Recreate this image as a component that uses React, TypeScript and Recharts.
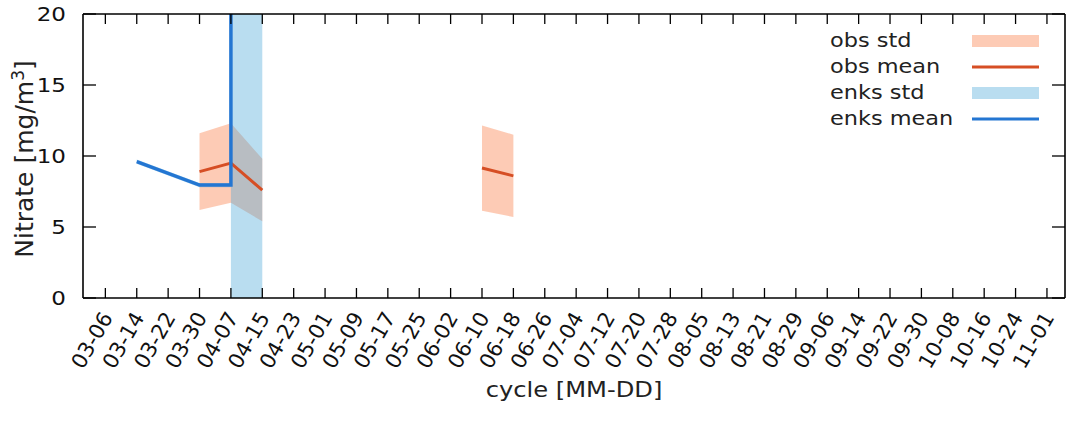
import {
  Area,
  ComposedChart,
  Legend,
  Line,
  XAxis,
  YAxis,
} from "recharts";

// cycle dates on the x axis (8-day steps)
const cycles = [
  "03-06", "03-14", "03-22", "03-30", "04-07", "04-15", "04-23", "05-01",
  "05-09", "05-17", "05-25", "06-02", "06-10", "06-18", "06-26", "07-04",
  "07-12", "07-20", "07-28", "08-05", "08-13", "08-21", "08-29", "09-06",
  "09-14", "09-22", "09-30", "10-08", "10-16", "10-24", "11-01",
];
const yTicks = [0, 5, 10, 15, 20];

// observations (null = gap)
const obsCycles = ["03-30", "04-07", "04-15", null, "06-10", "06-18"];
const obsMean = [8.9, 9.5, 7.6, null, 9.15, 8.6];
const obsStd = [2.7, 2.8, 2.2, null, 3.0, 2.9];

// EnKS analysis (two entries on 04-07: before / after the jump)
const enksCycles = ["03-14", "03-30", "04-07", "04-07", "04-15"];
const enksMean = [9.6, 7.95, 7.95, 40, 40];
const enksStd = [0.15, 0.15, 0.15, 60, 60];

const STEP = 8;
const dayOf = (c: string) => cycles.indexOf(c) * STEP;
const tickDays = cycles.map((_, i) => i * STEP);

const obsData = obsCycles.map((c, i) => ({
  day: c ? dayOf(c) : (dayOf("04-15") + dayOf("06-10")) / 2,
  mean: obsMean[i],
  std: obsMean[i] == null ? null : [obsMean[i]! - obsStd[i]!, obsMean[i]! + obsStd[i]!],
}));
const enksData = enksCycles.map((c, i) => ({
  day: dayOf(c),
  mean: enksMean[i],
  std: [enksMean[i] - enksStd[i], enksMean[i] + enksStd[i]],
}));

const FONT = "'DejaVu Sans', sans-serif";
const OBS_FILL = "rgb(250,140,90)";
const OBS_OPACITY = 0.45;
const OBS_LINE = "rgb(214,78,36)";
const ENKS_FILL = "rgb(70,165,215)";
const ENKS_OPACITY = 0.38;
const ENKS_LINE = "rgb(36,118,210)";
const SX = 1.15; // the reference is slightly stretched sideways

function BottomTick({ x, y, payload }: any) {
  const label = cycles[Math.round(payload.value / STEP)];
  return (
    <g>
      <line x1={x} x2={x} y1={y} y2={y - 10} stroke="#000" strokeWidth={1.3} />
      <g transform={`translate(${x + 2},${y + 16}) rotate(-60)`}>
        <text textAnchor="end" dominantBaseline="central" fontSize={21} fill="#111" fontFamily={FONT}>
          {label}
        </text>
      </g>
    </g>
  );
}

function TopTick({ x, y }: any) {
  return <line x1={x} x2={x} y1={y} y2={y + 10} stroke="#000" strokeWidth={1.3} />;
}

function LeftTick({ x, y, payload }: any) {
  return (
    <g>
      <line x1={x} x2={x + 13} y1={y} y2={y} stroke="#000" strokeWidth={1.3} />
      <g transform={`translate(${x - 17},${y}) scale(${SX},1)`}>
        <text textAnchor="end" dominantBaseline="central" fontSize={20} fill="#111" fontFamily={FONT}>
          {payload.value}
        </text>
      </g>
    </g>
  );
}

function RightTick({ x, y }: any) {
  return <line x1={x} x2={x - 13} y1={y} y2={y} stroke="#000" strokeWidth={1.3} />;
}

function YTitle() {
  return (
    <text
      transform="translate(33,159) rotate(-90)"
      textAnchor="middle"
      fontSize={25}
      fill="#222"
      fontFamily={FONT}
    >
      Nitrate [mg/m
      <tspan dy={-9} fontSize={17}>3</tspan>
      <tspan dy={9}>]</tspan>
    </text>
  );
}

function XTitle() {
  return (
    <g transform="translate(574,397) scale(1.1,1)">
      <text textAnchor="middle" fontSize={22} fill="#222" fontFamily={FONT}>
        cycle [MM-DD]
      </text>
    </g>
  );
}

const legendItems = [
  { label: "obs std", color: OBS_FILL, kind: "patch", opacity: OBS_OPACITY },
  { label: "obs mean", color: OBS_LINE, kind: "line", opacity: 1 },
  { label: "enks std", color: ENKS_FILL, kind: "patch", opacity: ENKS_OPACITY },
  { label: "enks mean", color: ENKS_LINE, kind: "line", opacity: 1 },
];

function LegendBox() {
  return (
    <svg width={240} height={110} style={{ display: "block" }}>
      {legendItems.map((it, i) => {
        const cy = 14 + i * 26;
        return (
          <g key={it.label}>
            <g transform={`translate(8,${cy}) scale(1.18,1)`}>
              <text dominantBaseline="central" fontSize={19} fill="#222" fontFamily={FONT}>
                {it.label}
              </text>
            </g>
            {it.kind === "patch" ? (
              <rect x={150} y={cy - 6} width={67} height={12} fill={it.color} fillOpacity={it.opacity} />
            ) : (
              <line x1={150} x2={217} y1={cy} y2={cy} stroke={it.color} strokeWidth={3} />
            )}
          </g>
        );
      })}
    </svg>
  );
}

export default function App() {
  return (
    <div style={{ position: "absolute", left: 0, top: 0, width: 1076, height: 425, background: "#fff" }}>
      <ComposedChart width={1076} height={425} margin={{ top: 0, right: 0, bottom: 0, left: 0 }}>
        <XAxis
          xAxisId="b"
          type="number"
          dataKey="day"
          domain={[-5.7, 244.6]}
          allowDataOverflow
          ticks={tickDays}
          interval={0}
          height={127}
          tickSize={0}
          tickMargin={0}
          tickLine={false}
          tick={<BottomTick />}
          axisLine={{ stroke: "#000", strokeWidth: 1.6 }}
          label={{ content: () => <XTitle /> }}
        />
        <XAxis
          xAxisId="t"
          orientation="top"
          type="number"
          dataKey="day"
          domain={[-5.7, 244.6]}
          allowDataOverflow
          ticks={tickDays}
          interval={0}
          height={14}
          tickSize={0}
          tickMargin={0}
          tickLine={false}
          tick={<TopTick />}
          axisLine={{ stroke: "#000", strokeWidth: 1.6 }}
        />
        <YAxis
          yAxisId="l"
          type="number"
          domain={[0, 20]}
          allowDataOverflow
          ticks={yTicks}
          interval={0}
          width={83}
          tickSize={0}
          tickMargin={0}
          tickLine={false}
          tick={<LeftTick />}
          axisLine={{ stroke: "#000", strokeWidth: 1.6 }}
          label={{ content: () => <YTitle /> }}
        />
        <YAxis
          yAxisId="r"
          orientation="right"
          type="number"
          domain={[0, 20]}
          allowDataOverflow
          ticks={yTicks}
          interval={0}
          width={11}
          tickSize={0}
          tickMargin={0}
          tickLine={false}
          tick={<RightTick />}
          axisLine={{ stroke: "#000", strokeWidth: 1.6 }}
        />
        <Area
          xAxisId="b"
          yAxisId="l"
          data={obsData}
          dataKey="std"
          type="linear"
          stroke="none"
          fill={OBS_FILL}
          fillOpacity={OBS_OPACITY}
          isAnimationActive={false}
          activeDot={false}
        />
        <Line
          xAxisId="b"
          yAxisId="l"
          data={obsData}
          dataKey="mean"
          type="linear"
          stroke={OBS_LINE}
          strokeWidth={3}
          dot={false}
          activeDot={false}
          isAnimationActive={false}
        />
        <Area
          xAxisId="b"
          yAxisId="l"
          data={enksData}
          dataKey="std"
          type="linear"
          stroke="none"
          fill={ENKS_FILL}
          fillOpacity={ENKS_OPACITY}
          isAnimationActive={false}
          activeDot={false}
        />
        <Line
          xAxisId="b"
          yAxisId="l"
          data={enksData}
          dataKey="mean"
          type="linear"
          stroke={ENKS_LINE}
          strokeWidth={3.5}
          dot={false}
          activeDot={false}
          isAnimationActive={false}
        />
        <Legend
          layout="vertical"
          align="center"
          verticalAlign="middle"
          content={() => <LegendBox />}
          wrapperStyle={{ left: 822, top: 27, width: 240 }}
        />
      </ComposedChart>
    </div>
  );
}
